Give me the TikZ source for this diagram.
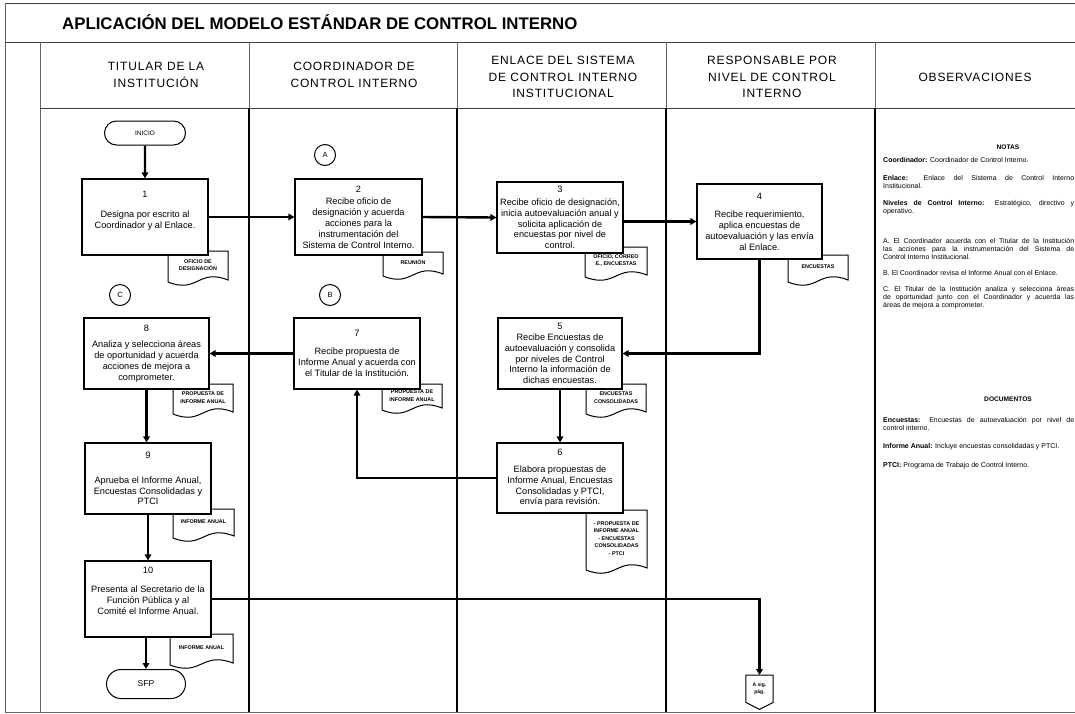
\documentclass[tikz,border=0pt]{standalone}
\usepackage{fontspec}
\setmainfont{Liberation Sans}
\newfontfamily\hdrfont[LetterSpace=7]{Liberation Sans}
\usetikzlibrary{arrows.meta,calc,shapes.misc}
\newcommand{\docshape}[6]{%
 \draw[docline] (#2,#3) -- (#4,#3) -- (#4,{#5-1}) .. controls ({(#2+#4)/2},{#5-13}) and ({(#2+#4)/2},{#5+13}) .. (#2,{#5+1}) -- cycle;
 \node[doctext] (#1) at ({(#2+#4)/2},{(#3+#5)/2-1}) {#6};}
\begin{document}
\begin{tikzpicture}[x=1pt,y=-1pt,
  frame/.style={draw=black!75, line width=1pt},
  hline/.style={draw=black!60, line width=0.8pt},
  laneline/.style={draw=black, line width=2pt},
  proc/.style={draw=black, line width=1.1pt, fill=white, align=center, inner sep=1pt, font=\fontsize{9.2}{10.8}\selectfont},
  term/.style={draw=black, line width=1pt, rounded rectangle, fill=white, inner sep=0pt},
  conn/.style={circle, draw=black, line width=1pt, minimum size=21pt, inner sep=0pt, font=\fontsize{7.5}{9}\selectfont},
  flow/.style={draw=black, line width=2.4pt, -{Triangle[length=6pt,width=6.5pt]}},
  doctext/.style={font=\fontsize{5.4}{7.4}\selectfont\bfseries, align=center, inner sep=0pt},
  docline/.style={draw=black, line width=1pt, fill=white},
  hdr/.style={font=\hdrfont\fontsize{12}{16.5}\selectfont, align=center},
  obs/.style={anchor=north west, text width=191pt, align=justify, inner sep=0pt, font=\fontsize{7}{8}\selectfont, execute at begin node={\hyphenpenalty=10000\relax}},
  obshead/.style={font=\fontsize{6.6}{8}\selectfont\bfseries, inner sep=0pt},
]
\useasboundingbox (0,0) rectangle (1075,713);
\fill[white] (0,0) rectangle (1075,713);
% frame
\draw[frame] (5,3) -- (1075,3);
\draw[hline] (5,3) -- (5,712);
\draw[frame] (5,42) -- (1075,42);
\draw[hline] (40,42) -- (40,712);
\draw[hline] (5,712) -- (1075,712);
\draw[frame] (40,108) -- (1075,108);
\foreach \xx in {249,457,666,875} {
  \draw[hline] (\xx,42) -- (\xx,108);
  \draw[laneline] (\xx,108) -- (\xx,712);
}
% title and headers
\node[anchor=west, font=\bfseries\fontsize{16.8}{19}\selectfont, inner sep=0pt] (title) at (62,22) {APLICACIÓN DEL MODELO ESTÁNDAR DE CONTROL INTERNO};
\node[hdr] (h1) at (156,75) {TITULAR DE LA\\INSTITUCIÓN};
\node[hdr] (h2) at (354,75) {COORDINADOR DE\\CONTROL INTERNO};
\node[hdr] (h3) at (563,77) {ENLACE DEL SISTEMA\\DE CONTROL INTERNO\\INSTITUCIONAL};
\node[hdr] (h4) at (772,77) {RESPONSABLE POR\\NIVEL DE CONTROL\\INTERNO};
\node[hdr] (h5) at (975,77) {OBSERVACIONES};
% documents
\docshape{d1}{168}{251}{228}{281}{OFICIO DE\\DESIGNACIÓN}
\docshape{d2}{383}{252}{443}{275}{REUNIÓN}
\docshape{d3}{585}{247}{647}{276}{OFICIO, CORREO\\E., ENCUESTAS}
\docshape{d4}{788}{255}{848}{281}{ENCUESTAS}
\docshape{d5}{586}{384}{646}{413}{ENCUESTAS\\CONSOLIDADAS}
\docshape{d6}{586}{510}{647}{569}{- PROPUESTA DE\\INFORME ANUAL\\- ENCUESTAS\\CONSOLIDADAS\\- PTCI}
\docshape{d7}{382}{384}{442}{409}{PROPUESTA DE\\INFORME ANUAL}
\docshape{d8}{173}{384}{233}{413}{PROPUESTA DE\\INFORME ANUAL}
\docshape{d9}{173}{509}{234}{537}{INFORME ANUAL}
\docshape{d10}{170}{634}{233}{664}{INFORME ANUAL}
% terminators and connectors
\node[term, minimum width=81pt, minimum height=24pt, font=\fontsize{6.5}{8}\selectfont] (ini) at (145,133) {INICIO};
\node[term, minimum width=79pt, minimum height=29pt, font=\fontsize{8.5}{10}\selectfont] (sfp) at (146,684) {SFP};
\node[conn] (cA) at (325,155) {A};
\node[conn] (cB) at (330,295) {B};
\node[conn] (cC) at (120,295) {C};
% process boxes
\node[proc, minimum width=126pt, minimum height=76pt] (n1) at (145,217) {1\\[9pt]Designa por escrito al\\Coordinador y al Enlace.\\[4pt]};
\node[proc, minimum width=127pt, minimum height=76pt] (n2) at (358.5,217) {2\\[2pt]Recibe oficio de\\designación y acuerda\\acciones para la\\instrumentación del\\Sistema de Control Interno.};
\node[proc, minimum width=126pt, minimum height=71pt] (n3) at (560,217.5) {3\\[2pt]Recibe oficio de designación,\\inicia autoevaluación anual y\\solicita aplicación de\\encuestas por nivel de\\control.};
\node[proc, minimum width=125pt, minimum height=75pt] (n4) at (759.5,221.5) {4\\[8pt]Recibe requerimiento,\\aplica encuestas de\\autoevaluación y las envía\\al Enlace.};
\node[proc, minimum width=124pt, minimum height=71pt] (n5) at (560,353.5) {5\\[0pt]Recibe Encuestas de\\autoevaluación y consolida\\por niveles de Control\\Interno la información de\\dichas encuestas.};
\node[proc, minimum width=126pt, minimum height=70pt] (n6) at (560,478) {6\\[6pt]Elabora propuestas de\\Informe Anual, Encuestas\\Consolidadas y PTCI,\\envía para revisión.};
\node[proc, minimum width=126pt, minimum height=71pt] (n7) at (357,353.5) {7\\[7pt]Recibe propuesta de\\Informe Anual y acuerda con\\el Titular de la Institución.};
\node[proc, minimum width=125pt, minimum height=71pt] (n8) at (146.5,353.5) {8\\[6pt]Analiza y selecciona áreas\\de oportunidad y acuerda\\acciones de mejora a\\comprometer.};
\node[proc, minimum width=126pt, minimum height=71pt] (n9) at (148,478.5) {9\\[14pt]Aprueba el Informe Anual,\\Encuestas Consolidadas y\\PTCI};
\node[proc, minimum width=126pt, minimum height=76pt] (n10) at (148,599) {10\\[9pt]Presenta al Secretario de la\\Función Pública y al\\Comité el Informe Anual.\\[6pt]};
% off-page connector
\node[inner sep=0pt, minimum width=27pt, minimum height=27pt, anchor=north, font=\fontsize{5}{7}\selectfont\bfseries, align=center] (op) at (759.5,675) {A sig.\\pág.};
\draw[black, line width=1pt] (op.north west) -- (op.north east) -- (op.south east) -- ($(op.south)+(0,7)$) -- (op.south west) -- cycle;
% flows
\draw[flow] (ini) -- (n1);
\draw[flow] (n1) -- (n2);
\draw[flow] (n2.east) -- (n3.west);
\draw[flow] (n3.east |- n4.west) -- (n4.west);
\draw[flow] (n4.south) |- (n5.east);
\draw[flow] (n5) -- (n6);
\draw[flow] (n6.west) -| (n7.south);
\draw[flow] (n7) -- (n8);
\draw[flow] (n8.south) -- (n8.south |- n9.north);
\draw[flow] (n9) -- (n10);
\draw[flow] (sfp.north |- n10.south) -- (sfp.north);
\draw[flow] (n10.east) -| (op.north);
% observations
\node[obshead] (notas) at (1008,147) {NOTAS};
\node[obs] (o1) at (883,157.3) {\textbf{Coordinador:} Coordinador de Control Interno.};
\node[obs] (o2) at (883,175.3) {\textbf{Enlace:} Enlace del Sistema de Control Interno\linebreak Institucional.};
\node[obs] (o3) at (883,200.3) {\textbf{Niveles de Control Interno:} Estratégico, directivo y\linebreak operativo.};
\node[obs] (o4) at (883,238.3) {A. El Coordinador acuerda con el Titular de la Institución\linebreak las acciones para la instrumentación del Sistema de\linebreak Control Interno Institucional.};
\node[obs] (o5) at (883,270.3) {B. El Coordinador revisa el Informe Anual con el Enlace.};
\node[obs] (o6) at (883,286.3) {C. El Titular de la Institución analiza y selecciona áreas\linebreak de oportunidad junto con el Coordinador y acuerda las\linebreak áreas de mejora a comprometer.};
\node[obshead] (docs) at (1008,399) {DOCUMENTOS};
\node[obs] (o7) at (883,417.3) {\textbf{Encuestas:} Encuestas de autoevaluación por nivel de\linebreak control interno.};
\node[obs] (o8) at (883,443.3) {\textbf{Informe Anual:} Incluye encuestas consolidadas y PTCI.};
\node[obs] (o9) at (883,462.3) {\textbf{PTCI:} Programa de Trabajo de Control Interno.};
\end{tikzpicture}
\end{document}
